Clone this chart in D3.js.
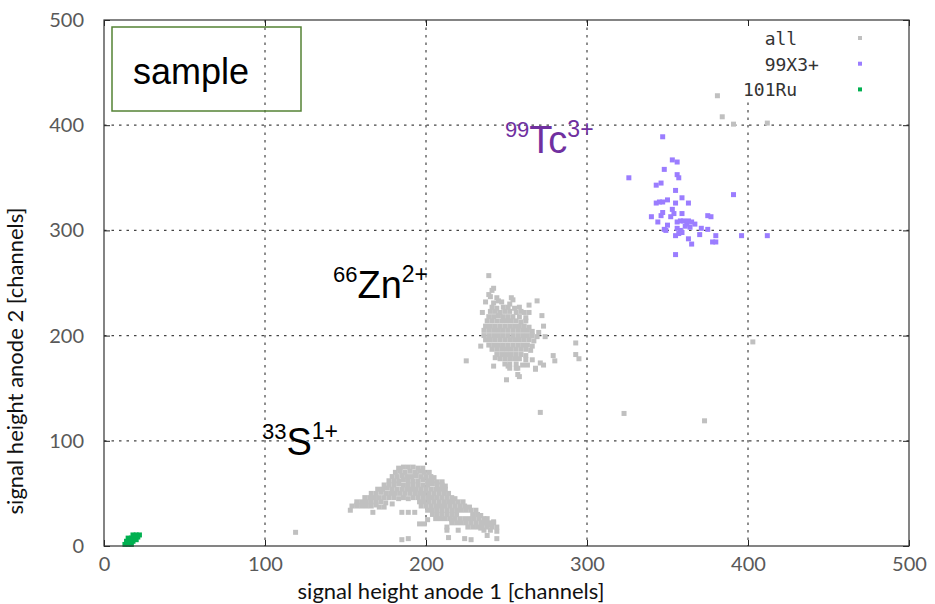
<!DOCTYPE html>
<html>
<head>
<meta charset="utf-8">
<script src="https://cdn.jsdelivr.net/npm/d3@7"></script>
<style>
  body { margin: 0; background: #fff; }
  svg { display: block; }
</style>
</head>
<body>
<svg id="chart" width="935" height="604"></svg>
<script>
// ---- data: anode 1 / anode 2 signal heights [channels] ----
const xTicks = [0, 100, 200, 300, 400, 500];
const yTicks = [0, 100, 200, 300, 400, 500];

// 33S1+ band (all events)
const allS = [
  [183,74],[186,75],[189,75],[192,75],[195,74],[198,74],
  [181,70],[184,71],[187,70],[190,71],[193,70],[196,71],[199,70],[202,70],
  [179,66],[182,66],[185,67],[188,66],[191,66],[194,67],[197,66],[200,66],[203,66],[205,65],
  [177,62],[180,62],[183,62],[186,63],[189,62],[192,62],[195,62],[198,63],[201,62],[204,62],[207,61],[210,61],
  [174,58],[177,58],[180,58],[183,59],[186,58],[189,58],[192,58],[195,58],[198,58],[201,58],[204,59],[207,58],[210,58],[212,57],
  [170,54],[173,54],[176,55],[179,54],[182,54],[185,54],[188,54],[191,54],[194,54],[197,54],[200,54],[203,54],[206,54],[209,54],[212,54],
  [166,50],[169,50],[172,51],[175,50],[178,50],[181,50],[184,50],[187,50],[190,50],[193,50],[196,50],[199,50],[202,50],[205,50],[208,50],[211,50],[214,50],
  [162,46],[165,46],[168,46],[171,46],[174,46],[177,46],[180,46],[183,45],[186,46],[189,45],[192,46],[195,46],[198,46],[201,46],[204,46],[207,46],[210,46],[213,46],[216,46],[218,45],
  [157,42],[160,42],[163,42],[166,42],[169,42],[172,42],[175,41],[196,42],[199,42],[202,42],[205,42],[208,42],[211,42],[214,42],[217,42],[220,42],[223,42],
  [154,38],[157,38],[160,38],[163,38],[166,38],[169,39],[197,38],[200,38],[203,38],[206,38],[209,38],[212,38],[215,38],[218,38],[221,38],[224,38],[227,37],
  [153,34],[201,34],[204,34],[207,34],[210,34],[213,34],[216,34],[219,34],[222,34],[225,34],[228,34],[231,34],
  [204,30],[207,30],[210,30],[213,30],[216,30],[219,30],[229,30],[232,30],[234,29],
  [209,26],[212,26],[215,26],[218,26],[221,26],[224,26],[227,26],[230,26],[233,26],[236,26],[238,26],
  [216,22],[219,22],[222,22],[225,22],[228,22],[231,22],[234,22],[237,22],[240,22],[242,22],
  [226,18],[229,18],[232,18],[235,18],[238,18],[241,18],[244,18],
  [236,15],[240,15],[244,14],
  // sparse events below the band
  [167,32],[171,37],[174,37],[179,40],[185,32],[189,32],[193,32],[157,39],
  [196,21],[199,21],[201,25],[206,26],[213,18],[213,15],[216,25],[220,15],
  [214,8],[224,7],[228,6],[185,6],[189,7],[238,10],[244,7],
  [234,17],[235,22],[239,20],[242,23],[119,13]
];

// 66Zn2+ cluster (all events)
const allZn = [
  [242,231],[247,232],[252,230],
  [241,227],[244,226],[248,227],[251,227],[255,226],[258,227],
  [240,223],[243,223],[246,222],[249,223],[252,223],[256,222],[259,223],[261,222],
  [239,218],[242,218],[245,219],[248,218],[251,218],[254,218],[258,218],[262,217],
  [238,214],[241,214],[244,214],[247,214],[250,214],[253,214],[256,214],[259,213],[262,214],
  [237,209],[240,209],[243,209],[246,209],[249,209],[252,209],[255,209],[258,209],[261,209],[264,208],
  [236,205],[239,205],[242,205],[245,205],[248,205],[251,205],[254,205],[257,205],[260,205],[263,205],[266,204],
  [236,200],[239,200],[242,200],[245,200],[248,200],[251,200],[254,200],[257,200],[260,200],[263,200],[266,200],[269,199],
  [237,196],[240,196],[243,196],[246,196],[249,196],[252,196],[255,196],[258,196],[261,196],[264,196],[267,195],
  [239,191],[242,191],[245,191],[248,191],[251,191],[254,191],[257,191],[260,191],[263,191],[266,190],
  [241,187],[244,187],[247,187],[250,187],[253,187],[256,187],[259,187],[262,187],[265,186],
  [244,182],[247,182],[250,182],[253,182],[256,182],[259,182],[262,181],
  [246,178],[249,178],[252,178],[255,178],[258,178],[262,177],
  [249,173],[252,173],[256,173],[260,172],
  [252,169],[257,169],
  // scattered events around the cluster
  [239,257],[242,245],[241,243],[239,239],[240,237],[237,232],[244,236],[245,233],
  [253,236],[254,234],[269,233],[264,229],[235,222],[272,219],[264,222],
  [270,203],[274,199],[273,209],[234,190],[225,176],
  [243,179],[242,171],[251,171],[256,169],[257,163],[263,172],[266,177],[268,169],
  [271,174],[279,181],[280,176],[250,158],[258,161],[268,168],[273,172]
];

// isolated events elsewhere (all)
const allOther = [
  [381,428],[384,408],[391,401],[412,402],
  [403,194],[293,193],[293,182],[295,178],[271,127],[323,126],[373,119]
];

// 99X3+ selection
const tc = [
  [347,389],[326,350],[353,367],[356,365],[348,358],[356,353],[357,350],
  [346,345],[343,343],[355,338],[391,334],[350,329],[359,331],
  [343,326],[345,327],[347,327],[355,326],[363,326],[353,320],
  [340,313],[344,308],[346,314],[347,317],[352,313],[354,316],[359,316],
  [375,314],[377,313],[350,305],[348,301],[349,300],
  [356,308],[358,309],[360,309],[362,306],[363,309],[365,308],[367,306],
  [356,302],[358,300],[361,304],[364,303],
  [355,295],[359,298],[357,297],[363,292],[365,287],[370,296],[371,302],
  [375,301],[380,295],[378,289],[380,289],[396,295],[412,295],[355,277]
];

// 101Ru selection
const ru = [
  [13,1.5],[15,1.5],[17,1.5],[14,4.5],[16,4.5],[18,4.5],
  [15,7.5],[17,7.5],[19,7.5],[20,6],[18,10.5],[20,10.5],[22,10.5],[21,8.5]
];

const legendItems = [
  { label: "  all",   color: "#c0c0c0" },
  { label: "  99X3+", color: "#9b7dff" },
  { label: "101Ru",   color: "#00b050" }
];

// ---- layout ----
const svg = d3.select("#chart");
const plot = { left: 104, right: 909, top: 20, bottom: 546 };
const x = d3.scaleLinear().domain([0, 500]).range([plot.left, plot.right]);
const y = d3.scaleLinear().domain([0, 500]).range([plot.bottom, plot.top]);
const labelFont = "Lato, 'Open Sans', sans-serif";
const textFont = "'Liberation Sans', Arial, sans-serif";

// grid
const grid = svg.append("g").attr("stroke", "#444").attr("stroke-width", 1.2)
  .attr("stroke-dasharray", "2.5,5");
grid.selectAll("line.v").data(xTicks.slice(1, -1)).join("line")
  .attr("x1", d => x(d)).attr("x2", d => x(d))
  .attr("y1", plot.top).attr("y2", plot.bottom);
grid.selectAll("line.h").data(yTicks.slice(1, -1)).join("line")
  .attr("x1", plot.left).attr("x2", plot.right)
  .attr("y1", d => y(d)).attr("y2", d => y(d));

// legend backing
svg.append("rect").attr("x", 738).attr("y", 21).attr("width", 168).attr("height", 80)
  .attr("fill", "#fff");

// points
const sz = 5;
function drawPoints(data, color) {
  svg.append("g").attr("fill", color).selectAll("rect").data(data).join("rect")
    .attr("x", d => x(d[0]) - sz / 2).attr("y", d => y(d[1]) - sz / 2)
    .attr("width", sz).attr("height", sz);
}
drawPoints(allS, legendItems[0].color);
drawPoints(allZn, legendItems[0].color);
drawPoints(allOther, legendItems[0].color);
drawPoints(tc, legendItems[1].color);
drawPoints(ru, legendItems[2].color);

// axes
function styleAxis(g) {
  g.select(".domain").remove();
  g.selectAll(".tick line").attr("stroke", "#222");
  g.selectAll(".tick text").attr("fill", "#595959")
    .style("font-family", labelFont).style("font-size", "20px");
}
svg.append("g").attr("transform", `translate(0,${plot.bottom})`)
  .call(d3.axisBottom(x).tickValues(xTicks).tickSize(-6).tickPadding(11).tickFormat(d3.format("d")))
  .call(styleAxis);
svg.append("g").attr("transform", `translate(${plot.left},0)`)
  .call(d3.axisLeft(y).tickValues(yTicks).tickSize(-6).tickPadding(20).tickFormat(d3.format("d")))
  .call(styleAxis);
svg.append("g").attr("transform", `translate(0,${plot.top})`)
  .call(d3.axisTop(x).tickValues(xTicks).tickSize(-6).tickFormat(""))
  .call(styleAxis);
svg.append("g").attr("transform", `translate(${plot.right},0)`)
  .call(d3.axisRight(y).tickValues(yTicks).tickSize(-6).tickFormat(""))
  .call(styleAxis);

// frame
svg.append("rect").attr("x", plot.left).attr("y", plot.top)
  .attr("width", plot.right - plot.left).attr("height", plot.bottom - plot.top)
  .attr("fill", "none").attr("stroke", "#333").attr("stroke-width", 1.2);

// axis titles
svg.append("text").attr("x", 451).attr("y", 599).attr("text-anchor", "middle")
  .style("font-family", labelFont).style("font-size", "22px").attr("fill", "#111")
  .text("signal height anode 1 [channels]");
svg.append("text").attr("transform", "translate(23,361) rotate(-90)").attr("text-anchor", "middle")
  .style("font-family", labelFont).style("font-size", "22px").attr("fill", "#111")
  .text("signal height anode 2 [channels]");

// legend
const leg = svg.append("g");
legendItems.forEach((it, i) => {
  leg.append("text").attr("x", 743).attr("y", 45 + i * 25.7)
    .attr("xml:space", "preserve").style("white-space", "pre")
    .style("font-family", "'DejaVu Sans Mono', monospace").style("font-size", "18px")
    .attr("fill", "#333").text(it.label);
  leg.append("rect").attr("x", 858).attr("y", 36 + i * 25.7).attr("width", 4).attr("height", 4)
    .attr("fill", it.color);
});

// sample box
svg.append("rect").attr("x", 112).attr("y", 27).attr("width", 189).attr("height", 84)
  .attr("fill", "none").attr("stroke", "#548235").attr("stroke-width", 1.5);
svg.append("text").attr("x", 133).attr("y", 84)
  .style("font-family", textFont).style("font-size", "36px").attr("fill", "#000")
  .text("sample");

// ion labels
function ionLabel(mass, sym, charge, dx, dy, color) {
  const t = svg.append("text").attr("x", x(dx)).attr("y", y(dy))
    .style("font-family", textFont).attr("fill", color);
  t.append("tspan").attr("font-size", 22).attr("dy", -16).text(mass);
  t.append("tspan").attr("font-size", 38).attr("dy", 16).text(sym);
  t.append("tspan").attr("font-size", 23).attr("dy", -16).text(charge);
}
ionLabel("99", "Tc", "3+", 249, 373.6, "#7030a0");
ionLabel("66", "Zn", "2+", 142.2, 235.7, "#000");
ionLabel("33", "S", "1+", 98.1, 86.5, "#000");
</script>
</body>
</html>
